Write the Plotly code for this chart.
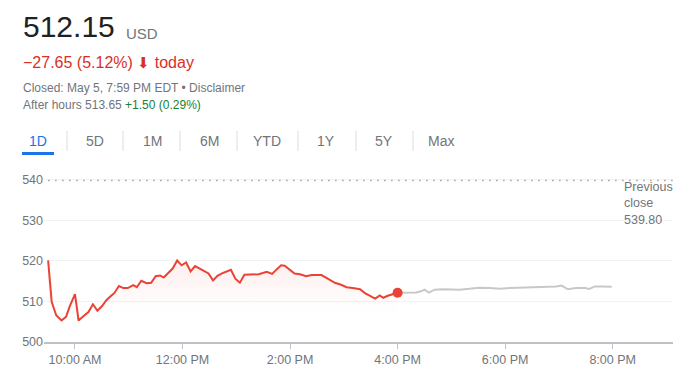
import plotly.graph_objects as go

DAY = "2022-05-05"

# Regular session (red)
reg_times = ["09:30", "09:34", "09:39", "09:45", "09:50", "09:54", "10:00", "10:04", "10:09", "10:15",
             "10:20", "10:25", "10:30", "10:35", "10:41", "10:44", "10:49", "10:54", "10:59", "11:05",
             "11:09", "11:14", "11:20", "11:25", "11:30", "11:35", "11:39", "11:44", "11:49", "11:54",
             "11:59", "12:04", "12:09", "12:14", "12:19", "12:24", "12:29", "12:34", "12:39", "12:44",
             "12:49", "12:54", "12:59", "13:04", "13:09", "13:15", "13:20", "13:25", "13:34", "13:40",
             "13:45", "13:50", "13:54", "14:00", "14:05", "14:11", "14:18", "14:24", "14:35", "14:42",
             "14:50", "14:57", "15:03", "15:10", "15:18", "15:24", "15:32", "15:35", "15:40", "15:44",
             "15:49", "15:55", "16:00"]
reg_prices = [520.1, 509.9, 506.6, 505.3, 506.2, 508.7, 511.8, 505.3, 506.3, 507.4,
              509.3, 507.7, 508.8, 510.3, 511.5, 512.1, 513.8, 513.3, 513.3, 514.0,
              513.5, 515.1, 514.5, 514.6, 516.2, 516.4, 515.9, 517.0, 518.1, 520.1,
              518.9, 519.6, 517.4, 518.7, 518.1, 517.3, 516.9, 515.2, 516.3, 516.9,
              517.4, 517.8, 515.6, 514.6, 516.6, 516.6, 516.7, 516.7, 517.3, 516.8,
              517.9, 518.9, 518.8, 517.7, 516.9, 516.7, 516.2, 516.5, 516.5, 515.6,
              514.6, 514.1, 513.5, 513.3, 513.0, 512.0, 511.0, 510.7, 511.5, 510.9,
              511.4, 511.9, 512.15]

# After hours (gray)
ah_times = ["16:00", "16:10", "16:21", "16:26", "16:30", "16:35", "16:41", "16:50", "17:02", "17:09",
            "17:20", "17:31", "17:43", "17:54", "18:05", "18:20", "18:35", "18:50", "18:57", "19:03",
            "19:10", "19:19", "19:29", "19:34", "19:40", "19:49", "19:59"]
ah_prices = [512.15, 512.1, 512.2, 512.5, 512.9, 512.2, 512.9, 513.0, 513.0, 512.9,
             513.1, 513.4, 513.3, 513.1, 513.3, 513.4, 513.4, 513.5, 513.7, 513.9,
             513.0, 513.3, 513.3, 513.1, 513.7, 513.7, 513.65]

prev_close = 539.80
y_ticks = [500, 510, 520, 530, 540]
x_tick_times = ["10:00", "12:00", "14:00", "16:00", "18:00", "20:00"]
x_tick_labels = ["10:00 AM", "12:00 PM", "2:00 PM", "4:00 PM", "6:00 PM", "8:00 PM"]
tabs = ["1D", "5D", "1M", "6M", "YTD", "1Y", "5Y", "Max"]

# The page body has an 8px margin: the figure starts at (8, 8) in the window.
OFF = 8
W, H = 689 - OFF, 370 - OFF
PLOT_LEFT, PLOT_RIGHT, PLOT_BOTTOM = 44, 673, 342   # window pixels
L = PLOT_LEFT - OFF
R = W - (PLOT_RIGHT - OFF)
B = H - (PLOT_BOTTOM - OFF)
T = 0
PW, PH = W - L - R, H - T - B


def px(x):
    return (x - OFF - L) / PW


def py(y):
    return (PLOT_BOTTOM - y) / PH


def ts(t):
    return f"{DAY} {t}"


FONT = "Arial, Liberation Sans, sans-serif"
GRAY = "#70757a"
RED = "#ea4335"

fig = go.Figure()
fig.add_trace(go.Scatter(
    x=[ts(t) for t in reg_times], y=reg_prices, mode="lines",
    line=dict(color=RED, width=2),
    fill="tozeroy",
    fillgradient=dict(type="vertical",
                      colorscale=[[0, "rgba(234,67,53,0)"], [1, "rgba(234,67,53,0.09)"]],
                      start=507, stop=521),
    hoverinfo="skip"))
fig.add_trace(go.Scatter(
    x=[ts(t) for t in ah_times], y=ah_prices, mode="lines",
    line=dict(color="#c8c8c8", width=2), hoverinfo="skip"))
fig.add_trace(go.Scatter(
    x=[ts(reg_times[-1])], y=[reg_prices[-1]], mode="markers",
    marker=dict(color=RED, size=10), hoverinfo="skip"))

x_end = f"{DAY} 21:07:18"
shapes = [
    dict(type="line", xref="x", yref="y", x0=ts("09:30"), x1=x_end, y0=prev_close, y1=prev_close,
         line=dict(color="#9aa0a6", width=1.5, dash="1.5px,5.5px")),
    dict(type="rect", xref="paper", yref="paper", x0=px(22), x1=px(54), y0=py(155), y1=py(152),
         fillcolor="#1a73e8", line=dict(width=0)),
]
for sx in [67, 123, 180, 237, 298, 356, 413]:
    shapes.append(dict(type="line", xref="paper", yref="paper", x0=px(sx), x1=px(sx),
                       y0=py(131), y1=py(151), line=dict(color="#dadce0", width=1)))

annotations = [
    dict(text="512.15", x=px(21), y=py(27), font=dict(size=30, color="#202124")),
    dict(text="USD", x=px(124), y=py(34), font=dict(size=15, color=GRAY)),
    dict(text="−27.65 (5.12%) <span style='font-size:15px'>⬇</span> today", x=px(21), y=py(62),
         font=dict(size=16, color="#d93025")),
    dict(text="Closed: May 5, 7:59 PM EDT • Disclaimer", x=px(21), y=py(88), font=dict(size=12, color=GRAY)),
    dict(text="After hours 513.65 <span style='color:#188038'>+1.50 (0.29%)</span>", x=px(21), y=py(105),
         font=dict(size=12, color=GRAY)),
    dict(text="Previous<br>close<br>539.80", x=px(622), y=py(203), align="left",
         font=dict(size=12.5, color=GRAY)),
]
for i, (tab, cx) in enumerate(zip(tabs, [38, 95, 152, 209, 267, 326, 384, 441])):
    annotations.append(dict(text=tab, x=px(cx), y=py(141), xanchor="center",
                            font=dict(size=14, color="#1a73e8" if i == 0 else GRAY)))
for a in annotations:
    a.setdefault("xanchor", "left")
    a.update(xref="paper", yref="paper", yanchor="middle", showarrow=False)

fig.update_layout(
    width=W, height=H, margin=dict(l=L, r=R, t=T, b=B, pad=0),
    paper_bgcolor="white", plot_bgcolor="white", showlegend=False,
    font=dict(family=FONT, color=GRAY, size=12),
    shapes=shapes, annotations=annotations,
    xaxis=dict(type="date", range=[f"{DAY} 09:25:25", x_end],
               tickvals=[ts(t) for t in x_tick_times], ticktext=x_tick_labels,
               showgrid=False, zeroline=False, showline=True, linecolor="#bdc1c6", linewidth=2,
               ticks="outside", ticklen=5, tickcolor="#bdc1c6", tickwidth=1,
               tickfont=dict(size=12.5, color=GRAY), fixedrange=True),
    yaxis=dict(range=[500, 542.4], domain=[0, py(170)], tickvals=y_ticks,
               showgrid=True, gridcolor="#f1f3f4", gridwidth=1, zeroline=False, showline=False,
               ticks="", tickfont=dict(size=12.5, color=GRAY), fixedrange=True),
)

fig.write_html("out.html")
